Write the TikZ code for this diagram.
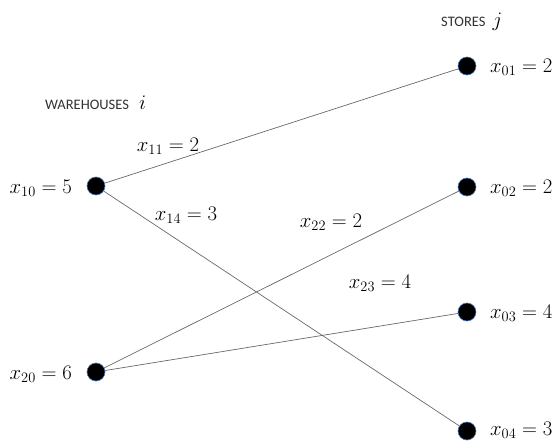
\documentclass[tikz,border=0pt]{standalone}
\usepackage{fontspec}
\newfontfamily\labelfont{Carlito}
\definecolor{dotrim}{RGB}{70,120,190}
\definecolor{flowline}{RGB}{105,105,105}
\definecolor{headink}{RGB}{50,50,50}
\begin{document}
\begin{tikzpicture}[x=1pt,y=-1pt,
  site/.style={circle,fill=black,draw=dotrim,line width=0.6pt,minimum size=18pt,inner sep=0pt},
  flow/.style={draw=flowline,line width=0.7pt},
  qty/.style={font=\fontsize{22}{26}\selectfont,inner sep=0pt},
  head/.style={font=\labelfont\fontsize{14.5}{16}\selectfont,text=headink,inner sep=0pt,anchor=west}]
\useasboundingbox (0,0) rectangle (557,441);

% warehouses
\node[site] (w1) at (96,186) {};
\node[site] (w2) at (96,372) {};
% stores
\node[site] (s1) at (467,66) {};
\node[site] (s2) at (467,187) {};
\node[site] (s3) at (467,312) {};
\node[site] (s4) at (467,431) {};

% supply and demand labels
\node[qty,anchor=east] (l10) at (72,188) {$x_{10}=5$};
\node[qty,anchor=east] (l20) at (72,374) {$x_{20}=6$};
\node[qty,anchor=west] (l01) at (490,67) {$x_{01}=2$};
\node[qty,anchor=west] (l02) at (490,188) {$x_{02}=2$};
\node[qty,anchor=west] (l03) at (490,313) {$x_{03}=4$};
\node[qty,anchor=west] (l04) at (490,430) {$x_{04}=3$};

% headings
\node[head] (hw) at (45,103) {WAREHOUSES\hspace{0.7em}{\color{black}\fontsize{22}{26}\selectfont$i$}};
\node[head] (hs) at (441,22) {STORES\hspace{0.5em}{\color{black}\fontsize{22}{26}\selectfont$j$}};

% shipments
\draw[flow] (w1) -- (s1);
\draw[flow] (w1) -- (s4);
\draw[flow] (w2) -- (s2);
\draw[flow] (w2) -- (s3);

\node[qty] (f11) at (168,146) {$x_{11}=2$};
\node[qty] (f14) at (186,215) {$x_{14}=3$};
\node[qty] (f22) at (331,222) {$x_{22}=2$};
\node[qty] (f23) at (380,283) {$x_{23}=4$};
\end{tikzpicture}
\end{document}
